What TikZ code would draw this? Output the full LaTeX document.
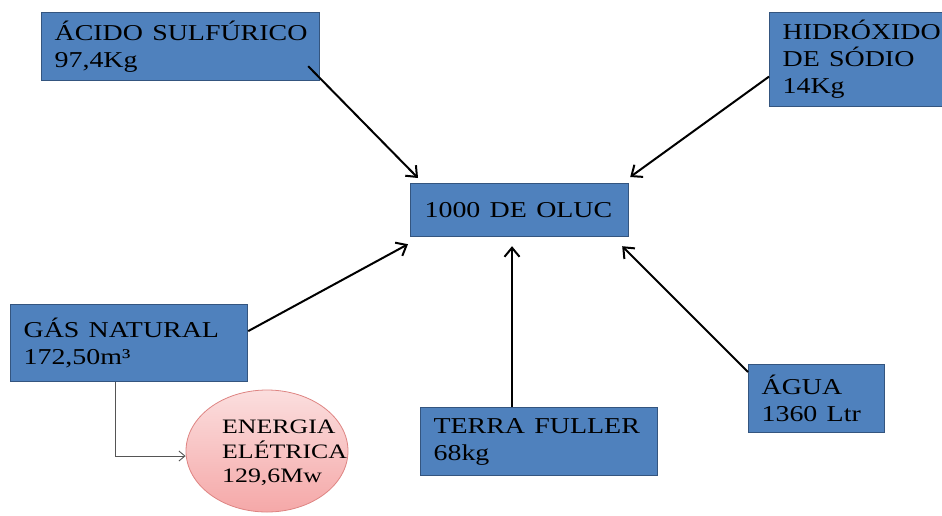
\documentclass[tikz,border=0pt]{standalone}
\usepackage{fontspec}
\setmainfont{Liberation Serif}
\usepackage{graphicx}
\usetikzlibrary{arrows.meta,shapes.geometric,calc}

% horizontally widened text, as in the original slide
\newcommand{\wide}[1]{\scalebox{1.23}[1]{#1}}
\newcommand{\wider}[1]{\scalebox{1.26}[1]{#1}}

\definecolor{boxfill}{HTML}{4F81BD}
\definecolor{boxline}{HTML}{34557F}
\definecolor{pinktop}{RGB}{251,222,222}
\definecolor{pinkbot}{RGB}{245,168,168}
\definecolor{pinkline}{RGB}{222,132,130}
\definecolor{elbow}{HTML}{555555}

\tikzset{
  box/.style={rectangle, draw=boxline, fill=boxfill, line width=1.2pt,
    inner xsep=13pt, inner ysep=0pt, align=left, anchor=north west,
    font=\fontsize{22.7}{27}\selectfont},
  product/.style={ellipse, draw=pinkline, line width=0.8pt,
    top color=pinktop, bottom color=pinkbot,
    minimum width=162pt, minimum height=122pt, inner sep=0pt},
  flow/.style={line width=2pt, -{Straight Barb[length=9pt,width=15pt,line width=2pt]}},
  side/.style={draw=elbow, line width=0.9pt, -{Straight Barb[length=6pt,width=10pt,line width=0.9pt]}}
}

\begin{document}
\begin{tikzpicture}[x=1pt,y=-1pt]
\useasboundingbox (0,0) rectangle (942,515);

% input and output boxes
\node[box, text width=252pt, minimum height=68pt] (acido) at (41,12)
  {\wide{ÁCIDO SULFÚRICO}\\\wide{97,4Kg}};
\node[box, text width=164pt, minimum height=94pt] (hidroxido) at (769,12)
  {\wide{HIDRÓXIDO}\\\wide{DE SÓDIO}\\\wide{14Kg}};
\node[box, text width=190pt, minimum height=53pt, inner xsep=14pt] (oluc) at (410,183)
  {\wide{1000 DE OLUC}};
\node[box, text width=211pt, minimum height=77pt] (gas) at (10,304)
  {\wide{GÁS NATURAL}\\\wide{172,50m³}};
\node[box, text width=211pt, minimum height=68pt] (terra) at (420,407)
  {\wide{TERRA FULLER}\\\wide{68kg}};
\node[box, text width=110pt, minimum height=68pt] (agua) at (748,364)
  {\wide{ÁGUA}\\\wide{1360 Ltr}};

% electricity produced from the natural gas
\node[product] (energia) at (267,451) {};
\node[anchor=west, align=left, inner sep=0pt,
  font=\fontsize{20.5}{24.5}\selectfont] (energiatxt) at (222,453)
  {\wider{ENERGIA}\\\wider{ELÉTRICA}\\\wider{129,6Mw}};

% flows into the product
\draw[flow] ($(acido.south east)+(-12,-15)$) -- ($(oluc.north west)+(8,-5)$);
\draw[flow] ($(hidroxido.west)+(0,17)$) -- ($(oluc.north east)+(1,-6)$);
\draw[flow] ($(gas.east)+(0,-12)$) -- ($(oluc.south west)+(-2,7)$);
\draw[flow] ($(terra.north west)+(92,0)$) -- ($(oluc.south west)+(102,9)$);
\draw[flow] ($(agua.north west)+(0,8)$) -- ($(oluc.south east)+(-7,9)$);

% gas to electricity
\draw[side] ($(gas.south west)+(105,0)$) |- ($(energia.west)+(0,5)$);
\end{tikzpicture}
\end{document}
